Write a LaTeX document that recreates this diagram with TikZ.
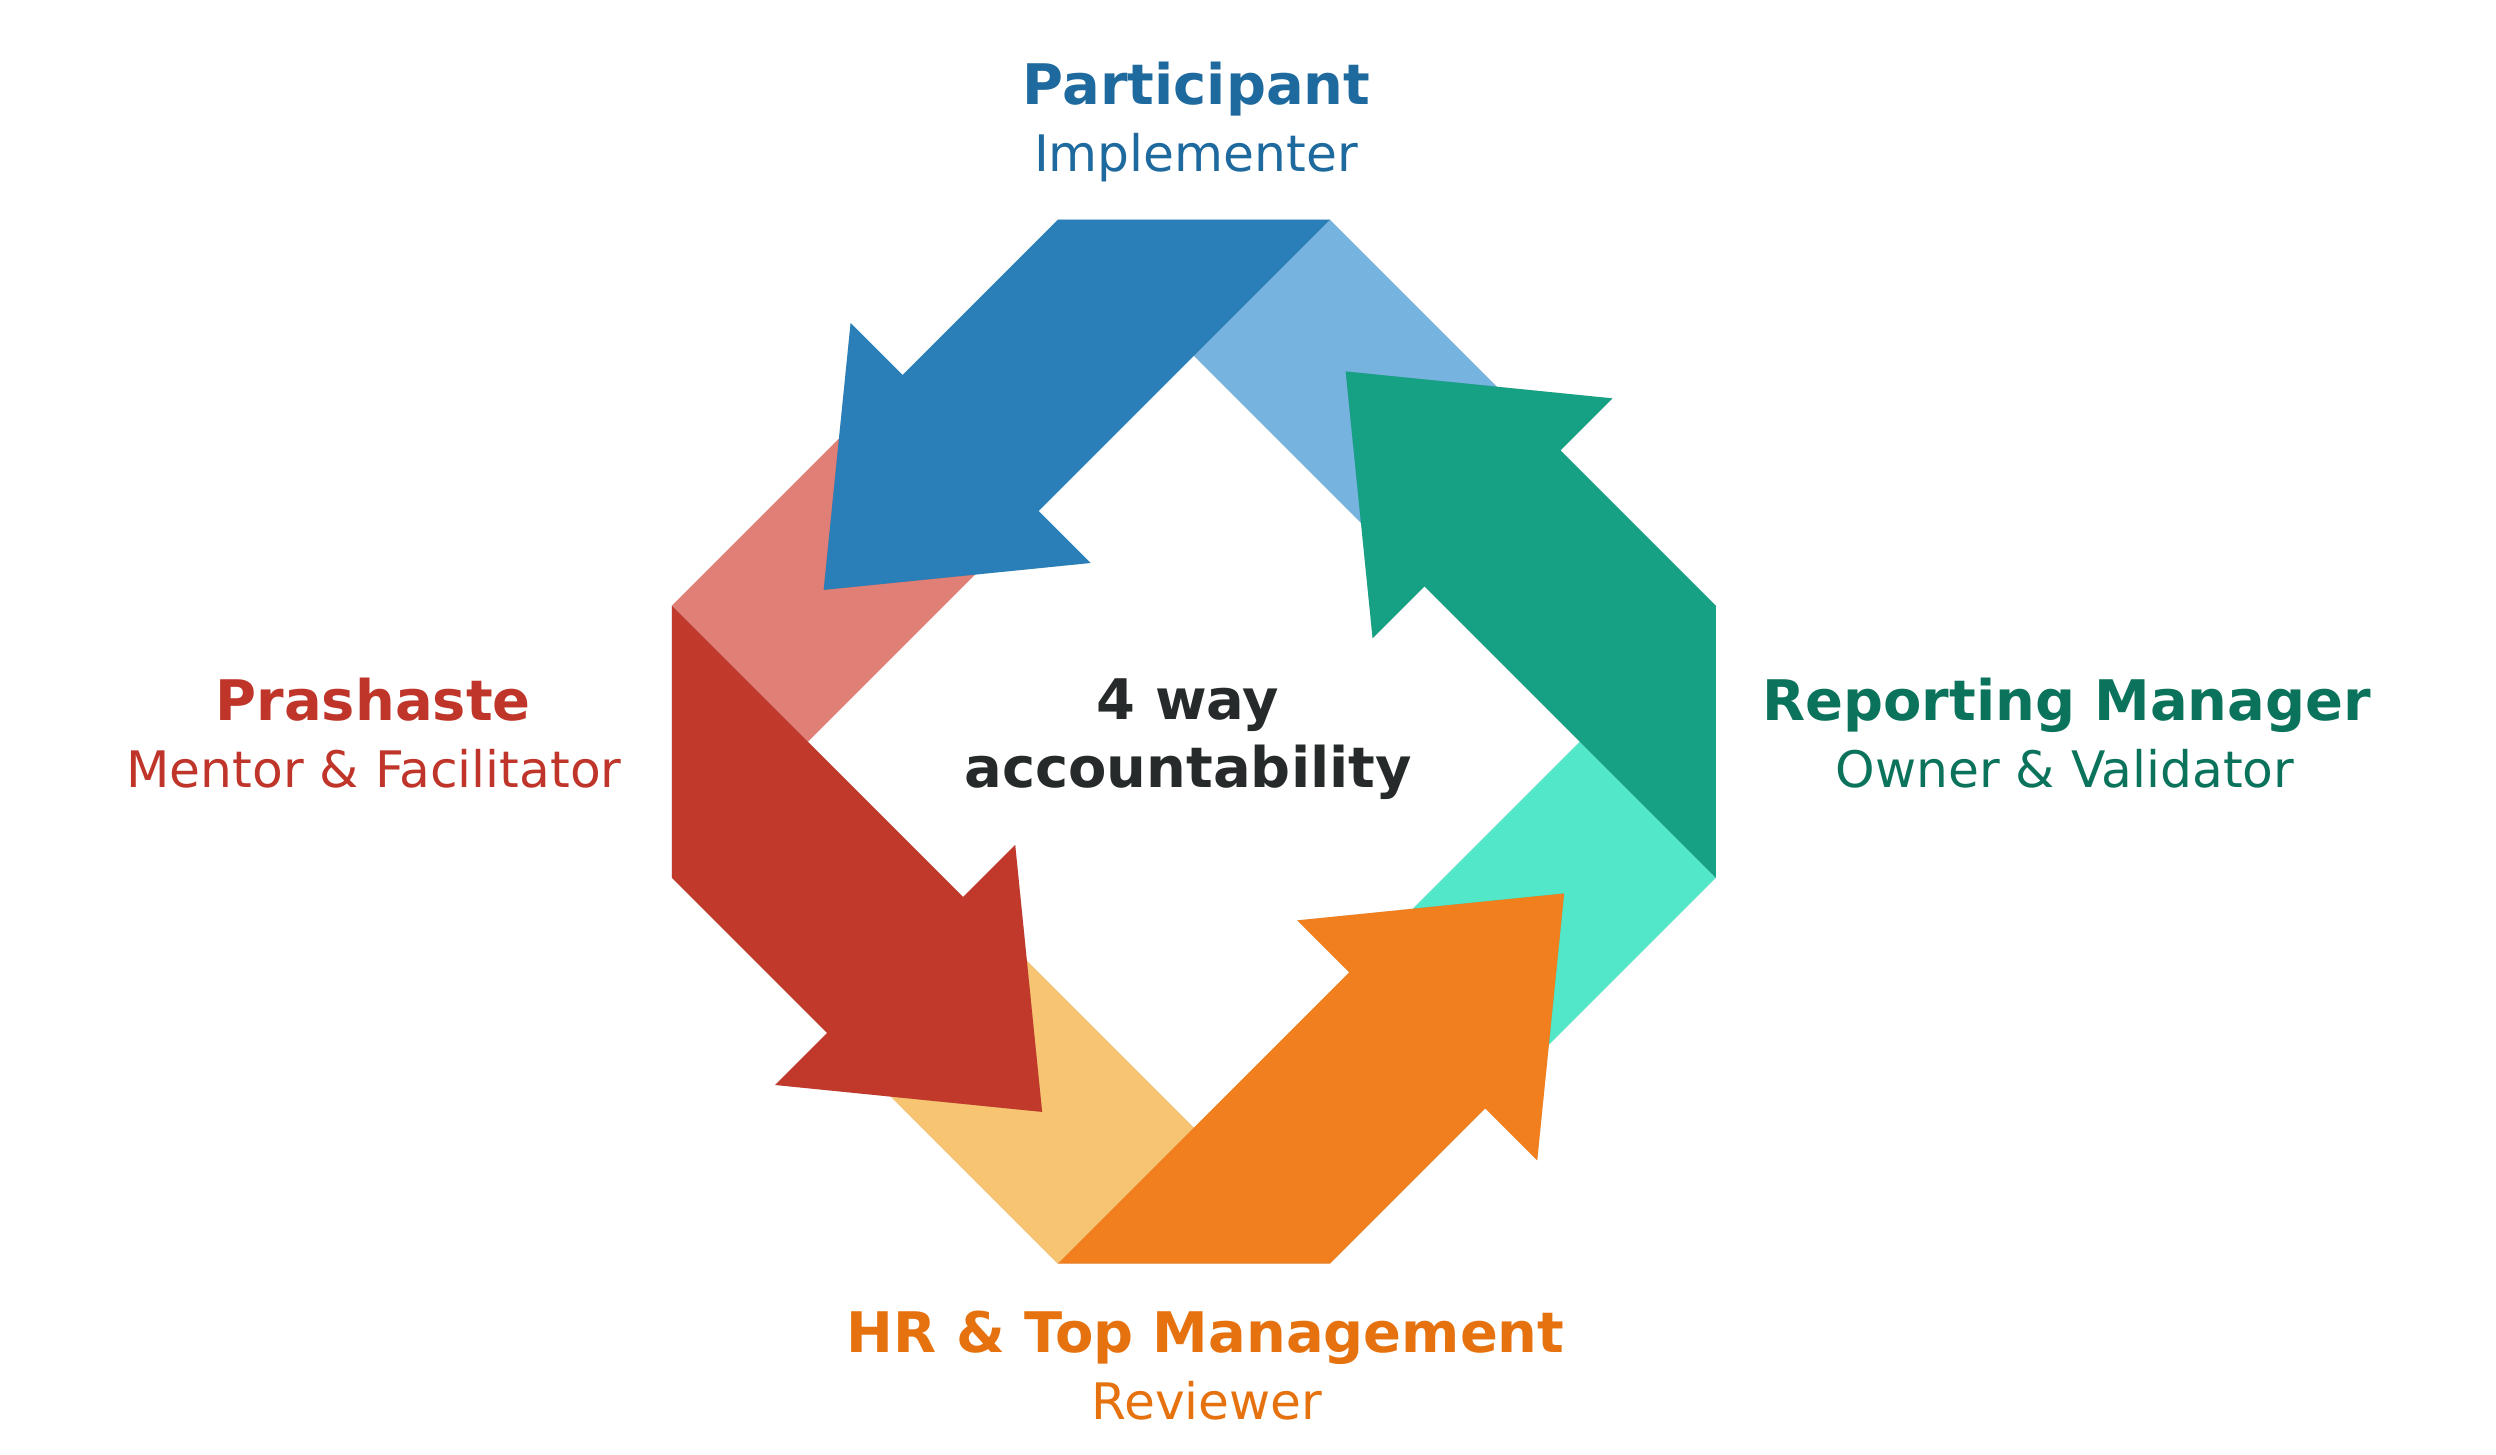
\documentclass[tikz,border=0pt]{standalone}
\usepackage{fontspec}
\setmainfont{DejaVu Sans}
\definecolor{bluD}{HTML}{2A7FB9}
\definecolor{bluL}{HTML}{76B4DF}
\definecolor{redD}{HTML}{C0392B}
\definecolor{redL}{HTML}{E07F76}
\definecolor{oraD}{HTML}{F17F1E}
\definecolor{oraL}{HTML}{F7C472}
\definecolor{grnD}{HTML}{16A185}
\definecolor{grnL}{HTML}{52E7C9}
\definecolor{txBlu}{HTML}{1E6A9E}
\definecolor{txRed}{HTML}{C0352A}
\definecolor{txGrn}{HTML}{0B735B}
\definecolor{txOra}{HTML}{E5720F}
\definecolor{txDark}{HTML}{262A2A}
\tikzset{
  titlelbl/.style={anchor=base, inner sep=0pt, font=\fontsize{15.9}{19}\selectfont\bfseries},
  sublbl/.style={anchor=base, inner sep=0pt, font=\fontsize{14.3}{17}\selectfont},
  shadowfill/.style={fill=black, opacity=0.05},
}
\begin{document}
\begin{tikzpicture}[x=0.01cm,y=0.01cm]
\useasboundingbox (0,0) rectangle (2496,1455);
\fill[white] (0,0) rectangle (2496,1455);
\coordinate (C) at (1193.9,713.3);
% light (folded) parts: shadows then fills
\foreach \r/\cl in {0/bluL,90/redL,180/oraL,270/grnL}{
  \foreach \dy in {-4,-9,-14}{
    \begin{scope}[shift={(0,\dy)}]
      \begin{scope}[shift={(C)},rotate=\r]
        \fill[shadowfill] (136,522) -- (366.7,291.3) -- (230.7,155.3) -- (0,386) -- cycle;
      \end{scope}
    \end{scope}
  }
  \begin{scope}[shift={(C)},rotate=\r]
    \fill[\cl] (136,522) -- (366.7,291.3) -- (230.7,155.3) -- (0,386) -- cycle;
  \end{scope}
}
% dark arrows: shadows then fills
\foreach \r/\cl in {0/bluD,90/redD,180/oraD,270/grnD}{
  \foreach \dy in {-4,-9,-14}{
    \begin{scope}[shift={(0,\dy)}]
      \begin{scope}[shift={(C)},rotate=\r]
        \fill[shadowfill] (-136,522) -- (136,522) -- (-155.3,230.7) -- (-103.3,178.7)
          -- (-370.2,151.8) -- (-343.3,418.7) -- (-291.3,366.7) -- cycle;
      \end{scope}
    \end{scope}
  }
  \begin{scope}[shift={(C)},rotate=\r]
    \fill[\cl] (-136,522) -- (136,522) -- (-155.3,230.7) -- (-103.3,178.7)
      -- (-370.2,151.8) -- (-343.3,418.7) -- (-291.3,366.7) -- cycle;
  \end{scope}
}
% labels
\node[titlelbl, text=txBlu] (part) at (1196.6,1350) {Participant};
\node[sublbl, text=txBlu] (impl) at (1196,1283.3) {Implementer};
\node[titlelbl, text=txRed] (prash) at (373.2,734.3) {Prashaste};
\node[sublbl, text=txRed] (mentor) at (374,667.7) {Mentor \& Facilitator};
\node[titlelbl, text=txGrn] (rm) at (2066.6,734.3) {Reporting Manager};
\node[sublbl, text=txGrn] (owner) at (2065,667.7) {Owner \& Validator};
\node[titlelbl, text=txOra] (hr) at (1205.6,102.3) {HR \& Top Management};
\node[sublbl, text=txOra] (rev) at (1207,35) {Reviewer};
\node[titlelbl, text=txDark] (four) at (1188,735) {4 way};
\node[titlelbl, text=txDark] (acc) at (1188,667.7) {accountability};
\end{tikzpicture}
\end{document}
